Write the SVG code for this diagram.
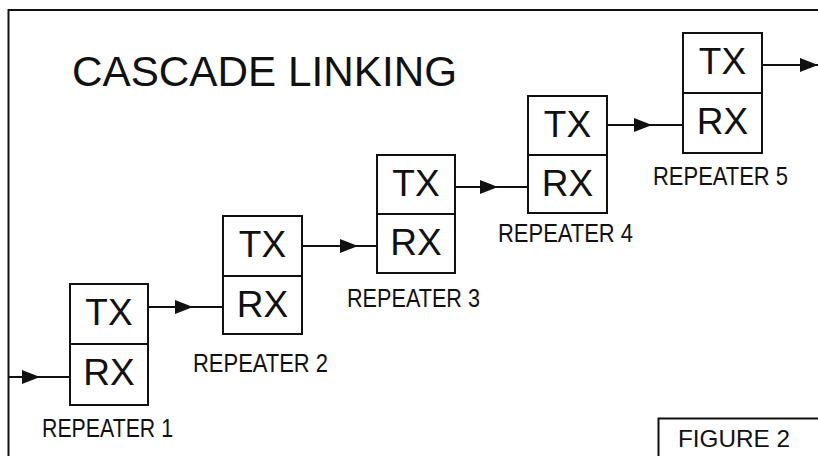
<svg xmlns="http://www.w3.org/2000/svg" width="818" height="456" viewBox="0 0 818 456">
<defs>
<style>
.bg{fill:#ffffff}
.ln{fill:none;stroke:#111;stroke-width:2}
.box{fill:#ffffff;stroke:#111;stroke-width:2}
.big{font-family:"Liberation Sans",Arial,sans-serif;font-size:37px;fill:#111;text-anchor:middle}
.lbl{font-family:"Liberation Sans",Arial,sans-serif;font-size:26px;fill:#111}
.title{font-family:"Liberation Sans",Arial,sans-serif;font-size:43px;fill:#111}
.fig{font-family:"Liberation Sans",Arial,sans-serif;font-size:24px;fill:#111}
.arr{fill:none;stroke:#111;stroke-width:2;marker-mid:url(#ah)}
</style>
<marker id="ah" viewBox="0 0 18 14" refX="18" refY="7" markerWidth="18" markerHeight="14" markerUnits="userSpaceOnUse" orient="auto">
<path d="M0,0 L18,7 L0,14 Z" fill="#111"/>
</marker>
</defs>
<rect class="bg" x="0" y="0" width="818" height="456"/>
<g id="frame">
<path class="ln" d="M8.5,456 V10 H818"/>
<text class="title" x="72" y="86" textLength="385" lengthAdjust="spacingAndGlyphs">CASCADE LINKING</text>
</g>
<g id="connectors">
<path class="arr" d="M8,377 L40,377 L70,377"/>
<path class="arr" d="M148,307 L193,307 L223,307"/>
<path class="arr" d="M302,246 L358,246 L377,246"/>
<path class="arr" d="M455,187 L498,187 L528,187"/>
<path class="arr" d="M607,125 L652,125 L683,125"/>
<path class="arr" d="M762,65 L818,65 L830,65"/>
</g>
<g id="repeater1">
<rect class="box" x="70" y="284" width="78" height="121"/>
<line class="ln" x1="70" y1="344" x2="148" y2="344"/>
<text class="big" x="109" y="325">TX</text>
<text class="big" x="109" y="385">RX</text>
<text class="lbl" x="42" y="437" textLength="131" lengthAdjust="spacingAndGlyphs">REPEATER 1</text>
</g>
<g id="repeater2">
<rect class="box" x="223" y="216" width="79" height="118"/>
<line class="ln" x1="223" y1="276" x2="302" y2="276"/>
<text class="big" x="262.5" y="257">TX</text>
<text class="big" x="262.5" y="317">RX</text>
<text class="lbl" x="193" y="372" textLength="135" lengthAdjust="spacingAndGlyphs">REPEATER 2</text>
</g>
<g id="repeater3">
<rect class="box" x="377" y="155" width="78" height="118"/>
<line class="ln" x1="377" y1="214" x2="455" y2="214"/>
<text class="big" x="416" y="196">TX</text>
<text class="big" x="416" y="255">RX</text>
<text class="lbl" x="347" y="307" textLength="133" lengthAdjust="spacingAndGlyphs">REPEATER 3</text>
</g>
<g id="repeater4">
<rect class="box" x="528" y="96" width="79" height="117"/>
<line class="ln" x1="528" y1="155" x2="607" y2="155"/>
<text class="big" x="567.5" y="137">TX</text>
<text class="big" x="567.5" y="196">RX</text>
<text class="lbl" x="498" y="242" textLength="135" lengthAdjust="spacingAndGlyphs">REPEATER 4</text>
</g>
<g id="repeater5">
<rect class="box" x="683" y="33" width="79" height="120"/>
<line class="ln" x1="683" y1="93" x2="762" y2="93"/>
<text class="big" x="722.5" y="74">TX</text>
<text class="big" x="722.5" y="134">RX</text>
<text class="lbl" x="653" y="185" textLength="135" lengthAdjust="spacingAndGlyphs">REPEATER 5</text>
</g>
<g id="figure-label">
<path class="ln" d="M658.5,456 V418.5 H818"/>
<text class="fig" x="678" y="447" textLength="112" lengthAdjust="spacingAndGlyphs">FIGURE 2</text>
</g>
</svg>
